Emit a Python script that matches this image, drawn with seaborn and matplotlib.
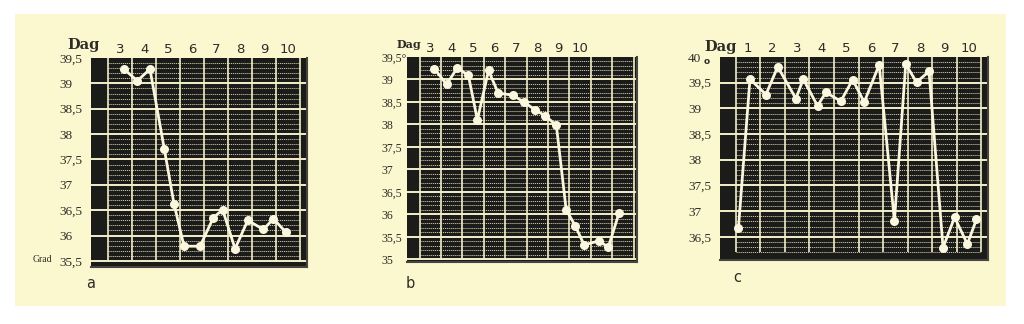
import numpy as np
import pandas as pd
import matplotlib
matplotlib.use("Agg")
import matplotlib.pyplot as plt
import seaborn as sns
from matplotlib.patches import Rectangle

# ---------------- data ----------------
a_days = [3, 4, 5, 6, 7, 8, 9, 10]
a_time = [3.16, 3.71, 4.24, 4.84, 5.24, 5.66, 6.33, 6.88, 7.27, 7.79, 8.32, 8.97, 9.39, 9.90]
a_temp = [39.28, 39.05, 39.28, 37.70, 36.63, 35.79, 35.79, 36.35, 36.51, 35.74, 36.30, 36.12, 36.33, 36.07]
a_yticks = [35.5, 36.0, 36.5, 37.0, 37.5, 38.0, 38.5, 39.0, 39.5]
a_ylabels = ["35,5", "36", "36,5", "37", "37,5", "38", "38,5", "39", "39,5"]

b_days = [3, 4, 5, 6, 7, 8, 9, 10]
b_time = [3.19, 3.76, 4.26, 4.78, 5.20, 5.72, 6.17, 6.85, 7.37, 7.91, 8.38, 8.89,
          9.35, 9.78, 10.19, 10.88, 11.32, 11.82]
b_temp = [39.24, 38.89, 39.26, 39.09, 38.10, 39.20, 38.70, 38.65, 38.50, 38.32, 38.19, 37.98,
          36.10, 35.74, 35.32, 35.41, 35.27, 36.03]
b_yticks = [35.0, 35.5, 36.0, 36.5, 37.0, 37.5, 38.0, 38.5, 39.0, 39.5]
b_ylabels = ["35", "35,5", "36", "36,5", "37", "37,5", "38", "38,5", "39", "39,5°"]

c_days = [1, 2, 3, 4, 5, 6, 7, 8, 9, 10]
c_time = [0.61, 1.08, 1.73, 2.21, 2.95, 3.25, 3.83, 4.17, 4.78, 5.26, 5.73, 6.34,
          6.96, 7.42, 7.86, 8.37, 8.94, 9.41, 9.93, 10.30]
c_temp = [36.67, 39.57, 39.27, 39.81, 39.19, 39.57, 39.05, 39.31, 39.14, 39.56, 39.12, 39.85,
          36.81, 39.86, 39.51, 39.72, 36.29, 36.88, 36.36, 36.84]
c_yticks = [36.5, 37.0, 37.5, 38.0, 38.5, 39.0, 39.5, 40.0]
c_ylabels = ["36,5", "37", "37,5", "38", "38,5", "39", "39,5", "40"]

panel_letters = ["a", "b", "c"]

# ---------------- style ----------------
CREAM = "#FBF7CF"
DARK = "#1b1b19"
GRID = "#F3EFC9"
LINE = "#FAF7DE"
TXT = "#2e2c27"

W, H = 1024, 324
fig = plt.figure(figsize=(W / 100, H / 100), dpi=100, facecolor="white")
fig.patches.append(Rectangle((15 / W, 1 - 306 / H), (1006 - 15) / W, (306 - 14) / H,
                             transform=fig.transFigure, facecolor=CREAM,
                             edgecolor="none", zorder=-10))


def px_axes(l, t, r, b):
    ax = fig.add_axes([l / W, 1 - b / H, (r - l) / W, (b - t) / H])
    ax.set_zorder(2)
    return ax


def draw_panel(ax, days, times, temps, yticks, ylabels, xlim, ylim, last_grid_day,
               grid_bottom, label_pad, ysize, xsize):
    ax.set_facecolor(DARK)
    bounds = np.arange(days[0] - 0.5, last_grid_day + 0.5 + 1e-6, 1.0)
    # fine dotted lines (0.1 degree)
    fine = [v for v in np.arange(grid_bottom, ylim[1] - 0.05, 0.1)
            if abs(v * 2 - round(v * 2)) > 1e-6]
    ax.hlines(fine, bounds[0], bounds[-1], colors=GRID, linewidth=0.7,
              linestyles=(0, (1.2, 0.9)), alpha=0.8, zorder=1)
    # half-degree lines
    maj = [v for v in yticks if v < ylim[1] - 0.05]
    ax.hlines(maj, xlim[0], xlim[1], colors=GRID, linewidth=1.4, zorder=2)
    # day boundaries
    ax.vlines(bounds, grid_bottom, ylim[1], colors=GRID, linewidth=1.2, zorder=2)

    df = pd.DataFrame({"t": times, "T": temps})
    sns.lineplot(data=df, x="t", y="T", sort=False, color=LINE, linewidth=2.0,
                 marker="o", markersize=6.5, markeredgewidth=0, ax=ax, zorder=5)

    ax.set_xlim(*xlim)
    ax.set_ylim(*ylim)
    ax.set_xlabel("")
    ax.set_ylabel("")
    ax.grid(False)
    ax.set_yticks(yticks)
    ax.set_yticklabels(ylabels, fontfamily="Liberation Serif", fontsize=ysize, color=TXT)
    for lab in ax.get_yticklabels():
        lab.set_ha("left")
    ax.tick_params(axis="y", length=0, pad=label_pad)
    ax.xaxis.tick_top()
    ax.set_xticks(days)
    ax.set_xticklabels([str(d) for d in days], fontfamily="DejaVu Sans",
                       fontsize=xsize, color=TXT)
    ax.tick_params(axis="x", length=0, pad=1.5)
    for s in ["left", "top"]:
        ax.spines[s].set_visible(False)
    for s in ["right", "bottom"]:
        ax.spines[s].set_color("#45443e")
        ax.spines[s].set_linewidth(1.5)


axa = px_axes(91, 58, 307, 267)
draw_panel(axa, a_days, a_time, a_temp, a_yticks, a_ylabels,
           (1.78, 10.79), (35.38, 39.5), 10, 35.5, 22.5, 9.5, 9.5)

axb = px_axes(407, 57, 637, 262)
draw_panel(axb, b_days, b_time, b_temp, b_yticks, b_ylabels,
           (1.91, 12.66), (34.94, 39.5), 12, 35.0, 18.5, 8.5, 9.5)

axc = px_axes(720, 57, 988, 260)
draw_panel(axc, c_days, c_time, c_temp, c_yticks, c_ylabels,
           (-0.14, 10.77), (36.05, 40.0), 10, 36.2, 23, 9.5, 9.5)


def ftext(x, y, s, **kw):
    fig.text(x / W, 1 - y / H, s, ha="center", va="center", **kw)


ftext(84, 45, "Dag", fontfamily="DejaVu Serif", fontweight="bold", fontsize=10.5, color=TXT)
ftext(409, 45, "Dag", fontfamily="DejaVu Serif", fontweight="bold", fontsize=8, color=TXT)
ftext(721, 47, "Dag", fontfamily="DejaVu Serif", fontweight="bold", fontsize=10.5, color=TXT)
ftext(707, 62, "o", fontfamily="DejaVu Sans", fontweight="bold", fontsize=6.5, color=TXT)
ftext(42, 260, "Grad", fontfamily="Liberation Serif", fontsize=7, color=TXT)

for (x, y), s in zip([(91, 283), (410, 283), (737, 277)], panel_letters):
    ftext(x, y, s, fontfamily="DejaVu Sans", fontsize=10.5, color=TXT)

fig.savefig("out.png", dpi=100, facecolor="white")
